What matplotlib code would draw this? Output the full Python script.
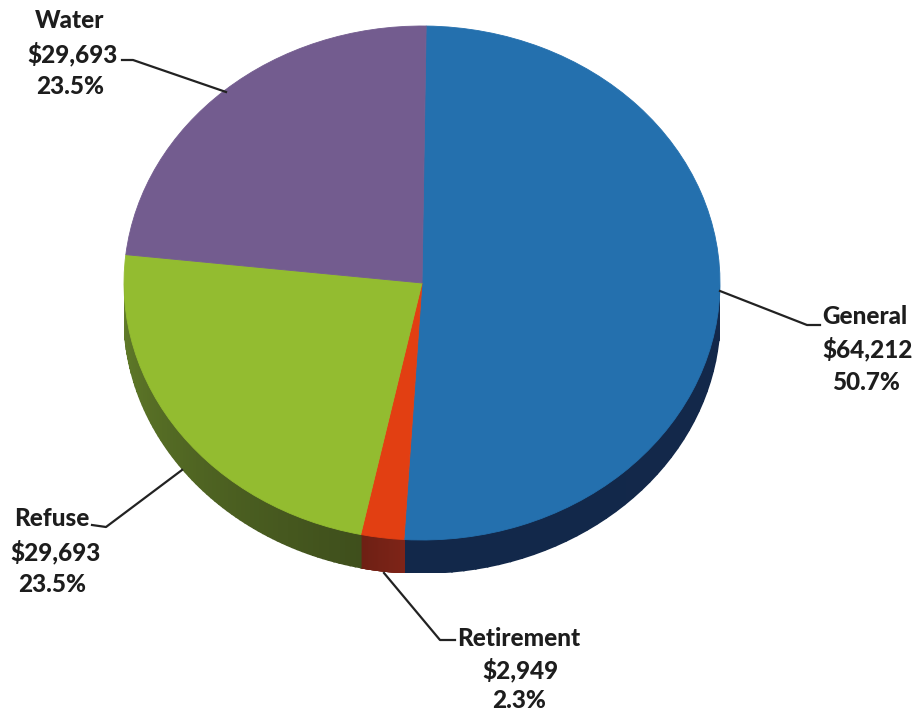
import numpy as np
import matplotlib
matplotlib.use("Agg")
import matplotlib.pyplot as plt

names = ["General", "Retirement", "Refuse", "Water"]
amounts = [64212, 2949, 29693, 29693]
shares = [50.7, 2.3, 23.5, 23.5]
top_colors = ["#2470ae", "#e23f12", "#93bc30", "#735c8f"]
# side wall colour at the two ends of each slice
side_start = ["#14284a", "#7e2418", "#3f4f1c", "#5f7a25"]
side_end = ["#12284a", "#6e2014", "#64802a", "#64802a"]

label_pos = {
    "General": [(865, 316), (868, 349), (866, 382)],
    "Retirement": [(519, 638), (520, 670), (519, 701)],
    "Refuse": [(52, 518), (55, 552), (52, 585)],
    "Water": [(70, 21), (72, 54), (70, 87)],
}
leaders = {
    "General": [(720, 291), (807, 325), (820, 325)],
    "Retirement": [(384, 573), (440, 640), (455, 640)],
    "Refuse": [(182, 470), (106, 527), (92, 525)],
    "Water": [(226, 92), (133, 60), (122, 60)],
}

W, H = 916, 712
LEFT, RIGHT, TOP, BOTTOM = 124, 720, 26, 540
DEPTH = 33
START = 89.2

plt.rcParams["font.family"] = ["Lato", "DejaVu Sans"]
fig = plt.figure(figsize=(W / 100, H / 100), dpi=100)

ry = (BOTTOM - TOP) / 2
d = DEPTH / ry

ax = fig.add_axes([LEFT / W, (H - BOTTOM - DEPTH) / H, (RIGHT - LEFT) / W, (BOTTOM - TOP + DEPTH) / H])

# side wall, drawn as thin strips so the shade can change along the rim
fractions = np.array(amounts) / sum(amounts)
edges = START - 360 * np.concatenate([[0], np.cumsum(fractions)])
for i in range(len(names)):
    angles = np.linspace(edges[i], edges[i + 1], 80)
    c0 = np.array(matplotlib.colors.to_rgb(side_start[i]))
    c1 = np.array(matplotlib.colors.to_rgb(side_end[i]))
    for j in range(len(angles) - 1):
        pair = np.radians(angles[j:j + 2])
        x = np.cos(pair)
        y = np.sin(pair)
        # the back half of the rim is hidden behind the top face
        if y.max() > 0:
            continue
        t = j / (len(angles) - 2)
        ax.fill(np.r_[x, x[::-1]], np.r_[y, y[::-1] - d],
                color=c0 + (c1 - c0) * t, lw=1.2)

wedges, _ = ax.pie(amounts, colors=top_colors, startangle=START, counterclock=False, radius=1)
for wedge, colour in zip(wedges, top_colors):
    wedge.set_edgecolor(colour)
    wedge.set_linewidth(0.6)
ax.set_aspect("auto")
ax.set_xlim(-1, 1)
ax.set_ylim(-1 - d, 1)
ax.axis("off")

# labels and leader lines in pixel coordinates
over = fig.add_axes([0, 0, 1, 1])
over.set_xlim(0, W)
over.set_ylim(H, 0)
over.axis("off")
over.patch.set_alpha(0)

for i, name in enumerate(names):
    lines = [name, f"${amounts[i]:,}", f"{shares[i]}%"]
    for (x, y), line in zip(label_pos[name], lines):
        over.text(x, y, line, ha="center", va="center", fontsize=17.5,
                  fontweight=900, color="#1d1d1d")
    xs, ys = zip(*leaders[name])
    over.plot(xs, ys, color="#222222", lw=1.6, solid_joinstyle="round")

fig.savefig("out.png", dpi=100)
